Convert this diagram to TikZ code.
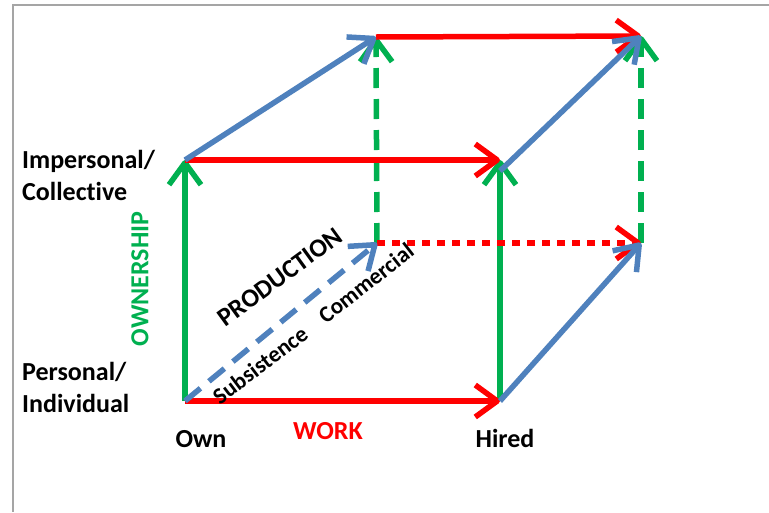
\documentclass[tikz,border=0pt]{standalone}
\usepackage{fontspec}
\setmainfont{Carlito}[Ligatures=NoCommon]
\usetikzlibrary{arrows.meta}

\definecolor{workred}{RGB}{255,0,0}
\definecolor{ownergreen}{RGB}{0,176,80}
\definecolor{prodblue}{RGB}{79,129,189}
\definecolor{framegray}{RGB}{165,165,165}

\begin{document}
\begin{tikzpicture}[x=1pt, y=-1pt,
    edge/.style={line width=5.5pt, -{Straight Barb[length=22pt, width=32pt, line join=round]}},
    work/.style={edge, draw=workred},
    owner/.style={edge, draw=ownergreen},
    prod/.style={edge, draw=prodblue},
    dashline/.style={dash pattern=on 20pt off 11pt},
    dotline/.style={dash pattern=on 8pt off 7pt},
    label/.style={font=\bfseries\fontsize{26}{32}\selectfont, inner sep=0pt},
    axislabel/.style={font=\bfseries\fontsize{23}{26}\selectfont, inner sep=0pt}]
    \useasboundingbox (0,0) rectangle (769,512);
    % frame
    \draw[framegray, line width=2pt] (769,5) -- (13,5) -- (13,512);

    % corners of the cube
    \coordinate (fbl) at (185,401);
    \coordinate (fbr) at (500,401);
    \coordinate (ftl) at (185,160);
    \coordinate (ftr) at (500,160);
    \coordinate (bbl) at (377,243);
    \coordinate (bbr) at (641,243);
    \coordinate (btl) at (376,37);
    \coordinate (btr) at (641,36);
    \coordinate (ftrb) at (500,171);

    % ownership
    \draw[owner] (fbl) -- (ftl);
    \draw[owner] (fbr) -- (ftr);
    \draw[owner, dashline] (bbl) -- (btl);
    \draw[owner, dashline] (bbr) -- (btr);
    % work
    \draw[work] (fbl) -- (fbr);
    \draw[work] (ftl) -- (ftr);
    \draw[work] (btl) -- (btr);
    \draw[work, dotline] (bbl) -- (bbr);
    % production
    \draw[prod] (ftl) -- (btl);
    \draw[prod] (ftrb) -- (btr);
    \draw[prod] (fbr) -- (bbr);
    \draw[prod, dashline] (fbl) -- (bbl);

    % labels
    \node[label, anchor=west, align=left] (impersonal) at (22,175) {Impersonal/\\Collective};
    \node[label, anchor=west, align=left] (personal) at (22,387) {Personal/\\Individual};
    \node[label] (own) at (201,439) {Own};
    \node[label] (hired) at (505,438) {Hired};
    \node[label, text=workred] (work) at (328,431) {WORK};
    \node[label, text=ownergreen, rotate=90] (ownership) at (140,279) {OWNERSHIP};
    \node[label, rotate=36] (production) at (280,277) {PRODUCTION};
    \node[axislabel, rotate=37] (subsistence) at (260,365) {Subsistence};
    \node[axislabel, rotate=38] (commercial) at (366,283) {Commercial};
\end{tikzpicture}
\end{document}
